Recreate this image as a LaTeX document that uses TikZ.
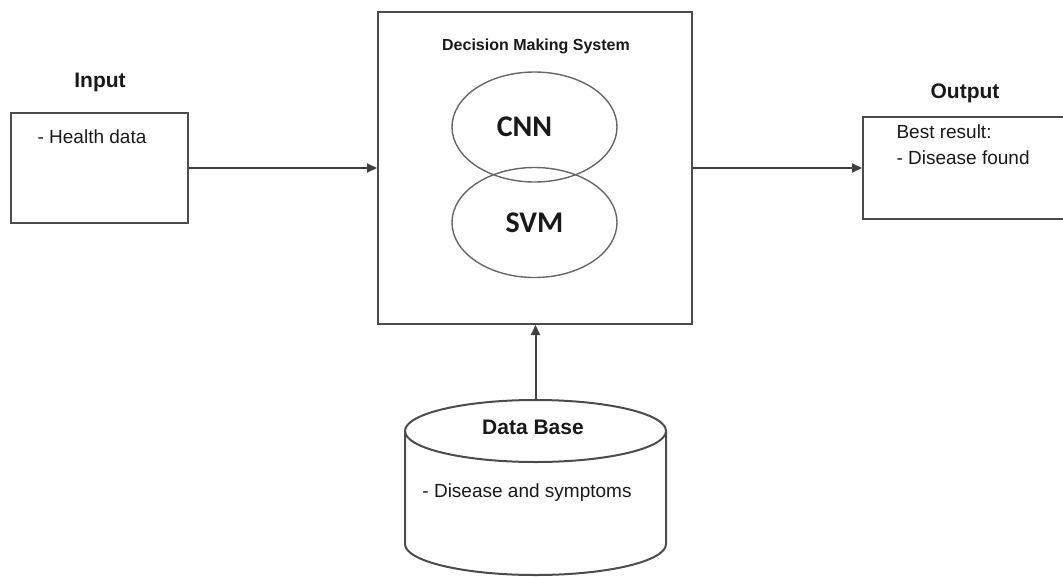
\documentclass[tikz,border=0pt]{standalone}
\usepackage{fontspec}
\setmainfont{Liberation Sans}
\newfontfamily\calibri{Carlito}
\usetikzlibrary{arrows.meta,shapes.geometric}

\tikzset{
    box/.style={draw=black!70, line width=2pt},
    ell/.style={draw=black!60, line width=1.4pt, ellipse, minimum width=165pt, minimum height=110pt,
        font=\calibri\fontsize{30}{32}\selectfont\bfseries, text=black!90},
    arr/.style={draw=black!75, line width=2pt, -{Triangle[length=10pt,width=9pt]}},
    lbl/.style={font=\fontsize{21}{24}\selectfont\bfseries, text=black!90},
    txt/.style={font=\fontsize{19}{26}\selectfont, text=black!90, align=left},
}

\begin{document}
\begin{tikzpicture}[x=1pt,y=-1pt]

        \clip (0,0) rectangle (1063,576);

        % boxes
        \node[box, minimum width=177pt, minimum height=110pt] (input) at (99.5,168) {};
        \node[box, minimum width=314pt, minimum height=312pt] (dms) at (535,168) {};
        \node[box, minimum width=212pt, minimum height=102pt, anchor=west] (output) at (862,168) {};

        \node[lbl] (inlabel) at (100,82) {Input};
        \node[lbl] (outlabel) at (965,93) {Output};
        \node[txt] (intext) at (92,137) {- Health data};
        \node[txt, anchor=west] (outtext) at (893,145) {Best result:\\- Disease found};

        % decision making system
        \node[font=\fontsize{16}{18}\selectfont\bfseries, text=black!90] (dmstitle) at (536,46) {Decision Making System};
        \node[ell] (cnn) at (534.5,127) {\makebox[0pt]{\kern-20pt CNN}};
        \node[ell] (svm) at (534.5,222.5) {SVM};

        % data base
        \coordinate (dbtop) at (535.5,400);
        \draw[box] (535.5,431) ellipse [x radius=130.5, y radius=31];
        \draw[box] (405,431) -- (405,544) arc[start angle=180, end angle=0, x radius=130.5, y radius=31] -- (666,431);
        \node[lbl] (dblabel) at (533,427) {Data Base};
        \node[txt] (dbtext) at (527,493) {- Disease and symptoms};

        \draw[arr] (input.east) -- (dms.west);
        \draw[arr] (dms.east) -- (output.west);
        \draw[arr] (dbtop) -- (dbtop |- dms.south);

\end{tikzpicture}
\end{document}
